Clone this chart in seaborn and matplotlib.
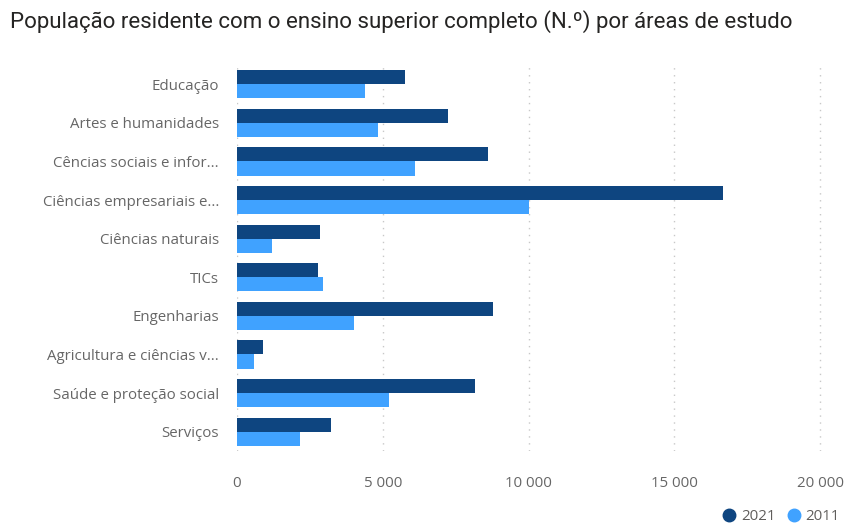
import matplotlib
matplotlib.use("Agg")
import matplotlib.pyplot as plt
import seaborn as sns
import pandas as pd
from matplotlib.lines import Line2D
from matplotlib.ticker import FuncFormatter

categories = ["Educação", "Artes e humanidades", "Cências sociais e infor...",
              "Ciências empresariais e...", "Ciências naturais", "TICs",
              "Engenharias", "Agricultura e ciências v...",
              "Saúde e proteção social", "Serviços"]
values_2021 = [5750, 7230, 8620, 16660, 2860, 2780, 8790, 880, 8150, 3230]
values_2011 = [4400, 4830, 6120, 10000, 1200, 2950, 4030, 600, 5220, 2170]
years = ["2021", "2011"]
colors = ["#0E4580", "#40A2FF"]
xticks = [0, 5000, 10000, 15000, 20000]

df = pd.DataFrame({
    "cat": categories * 2,
    "val": values_2021 + values_2011,
    "year": [years[0]] * len(categories) + [years[1]] * len(categories),
})

sns.set_theme(style="white")
plt.rcParams["font.family"] = ["Open Sans", "DejaVu Sans"]

fig = plt.figure(figsize=(8.52, 5.32), dpi=100)
ax = fig.add_axes([237/852, 1 - 451/532, (823 - 237)/852, (451 - 65)/532])

sns.barplot(data=df, y="cat", x="val", hue="year", order=categories,
            hue_order=years, palette=colors, orient="h", width=0.73,
            gap=0, dodge=True, ax=ax, legend=False, saturation=1,
            edgecolor="none", linewidth=0)

ax.set_xlim(0, 20100)
ax.set_ylim(len(categories) - 0.5, -0.5)
ax.set_xticks(xticks)
ax.xaxis.set_major_formatter(FuncFormatter(lambda v, p: f"{int(v):,}".replace(",", " ")))
ax.grid(axis="x", color="#C8C8C8", linestyle=(0, (1, 4)), linewidth=1)
ax.set_axisbelow(True)
for s in ax.spines.values():
    s.set_visible(False)
ax.set_xlabel("")
ax.set_ylabel("")
ax.tick_params(axis="both", length=0, colors="#666666", labelsize=10.8)
ax.tick_params(axis="x", pad=18)
ax.tick_params(axis="y", pad=13)

fig.text(10/852, 1 - 22/532, "População residente com o ensino superior completo (N.º) por áreas de estudo",
         fontsize=16, color="#252423", va="center", ha="left",
         family=["Roboto", "DejaVu Sans"])

handles = [Line2D([], [], marker="o", linestyle="none", color=c, markersize=9) for c in colors]
fig.legend(handles, years, loc="lower right", bbox_to_anchor=(846/852, 2/532), ncol=2,
           frameon=False, handletextpad=-0.2, columnspacing=0.2, fontsize=10.8,
           labelcolor="#605E5C", borderaxespad=0)

fig.savefig("out.png", dpi=100)
